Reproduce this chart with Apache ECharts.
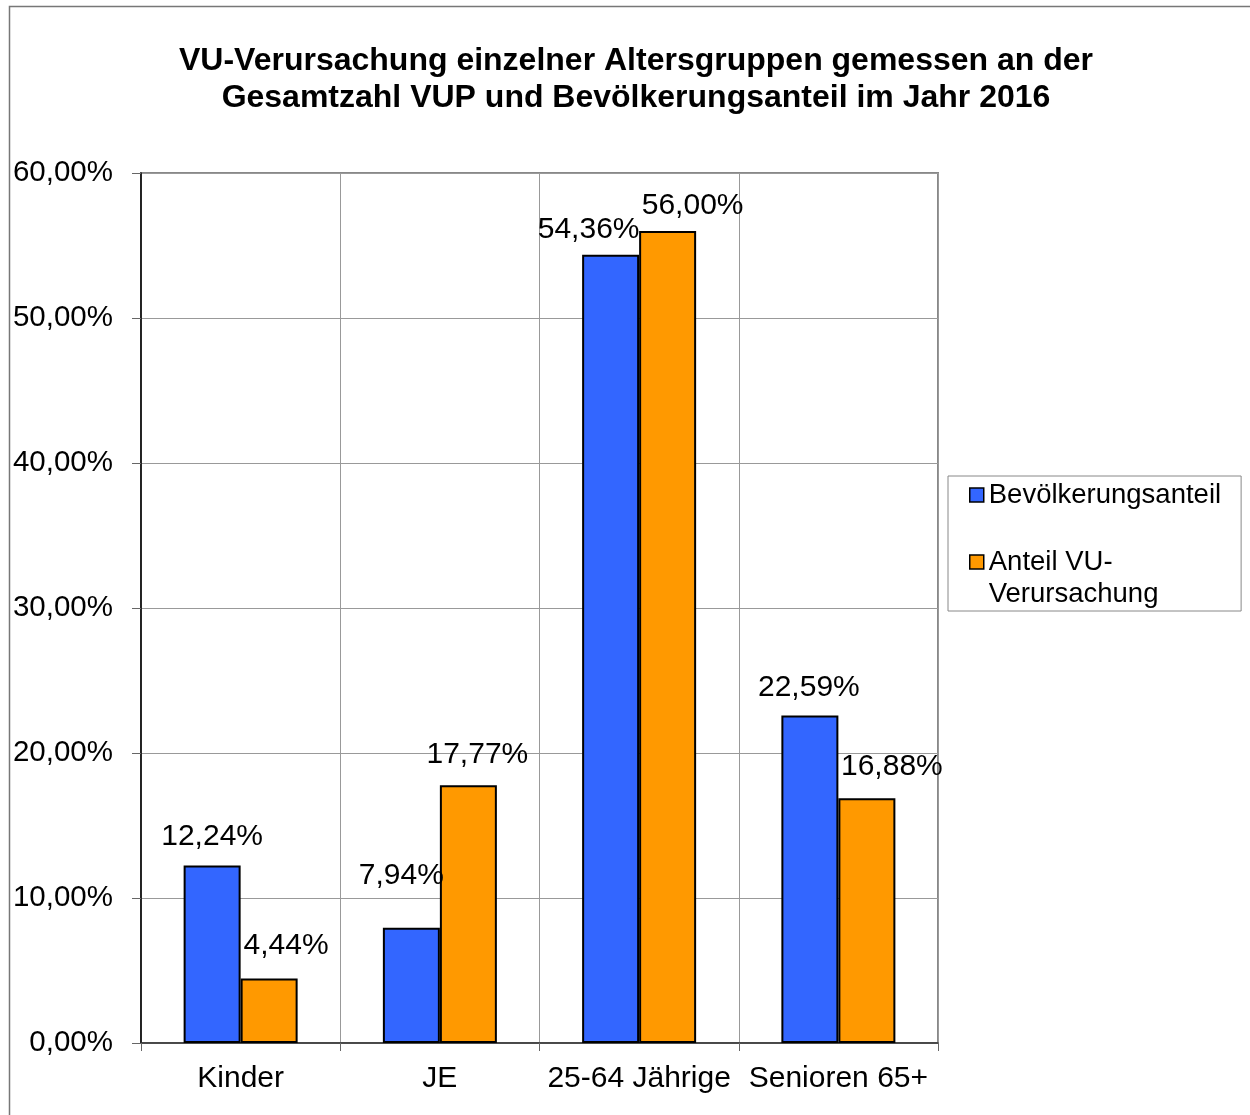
<!DOCTYPE html>
<html>
<head>
<meta charset="utf-8">
<script src="https://cdn.jsdelivr.net/npm/echarts@6/dist/echarts.min.js"></script>
<style>
html,body{margin:0;padding:0;background:#fff;}
#c{width:1250px;height:1115px;}
</style>
</head>
<body>
<div id="c"></div>
<script>
const categories = ['Kinder', 'JE', '25-64 Jährige', 'Senioren 65+'];
const seriesNames = ['Bevölkerungsanteil', 'Anteil VU-Verursachung'];
const bevoelkerung = [12.24, 7.94, 54.36, 22.59];
const vuAnteil = [4.44, 17.77, 56.00, 16.88];
const yTicks = [0, 10, 20, 30, 40, 50, 60];

// label nudges (style only, not data)
const nudgeBlue = [[0, -9], [-10, -32], [-22, -5], [-1, -8]];
const nudgeOrange = [[17, -13], [9, -11], [25, -5], [25, -12]];

const FONT = "'Liberation Sans', Arial, sans-serif";
const fmt = v => v.toFixed(2).replace('.', ',') + '%';

function build(vals, nudges) {
  return vals.map((v, i) => ({ value: v, label: { offset: nudges[i] } }));
}

const chart = echarts.init(document.getElementById('c'), null, { renderer: 'canvas' });
chart.setOption({
  backgroundColor: '#fff',
  animation: false,
  textStyle: { fontFamily: FONT },
  graphic: [{
    type: 'rect',
    shape: { x: 9.5, y: 6.5, width: 1260, height: 1130 },
    style: { fill: null, stroke: '#777', lineWidth: 1.5 },
    silent: true
  }],
  title: {
    text: 'VU-Verursachung einzelner Altersgruppen gemessen an der\nGesamtzahl VUP und Bevölkerungsanteil im Jahr 2016',
    left: 636,
    top: 43,
    padding: 0,
    textAlign: 'center',
    textStyle: { fontFamily: FONT, fontSize: 32, fontWeight: 'bold', color: '#000', lineHeight: 37 }
  },
  legend: {
    orient: 'vertical',
    left: 948,
    top: 476,
    padding: [3, 20, 1, 21],
    itemWidth: 14,
    itemHeight: 14,
    itemGap: 3,
    borderColor: '#888',
    borderWidth: 1,
    borderRadius: 0,
    icon: 'rect',
    formatter: name => name === seriesNames[1] ? '\nAnteil VU-\nVerursachung' : name,
    data: seriesNames,
    textStyle: { fontFamily: FONT, fontSize: 27.5, color: '#000', lineHeight: 32 },
    itemStyle: { borderColor: '#000', borderWidth: 1.5 }
  },
  grid: {
    left: 141, right: 312, top: 173, bottom: 72,
    show: true, borderColor: '#888', borderWidth: 2, backgroundColor: 'transparent'
  },
  xAxis: {
    type: 'category',
    data: categories,
    boundaryGap: true,
    axisLine: { show: true, lineStyle: { color: '#333', width: 1.5 } },
    axisTick: { show: true, alignWithLabel: false, length: 8, lineStyle: { color: '#666', width: 1 } },
    axisLabel: { fontFamily: FONT, fontSize: 30, color: '#000', margin: 21, interval: 0 },
    splitLine: { show: true, interval: 0, lineStyle: { color: '#999', width: 1 } }
  },
  yAxis: {
    type: 'value',
    min: yTicks[0],
    max: yTicks[yTicks.length - 1],
    interval: 10,
    axisLine: { show: true, lineStyle: { color: '#000', width: 1.5 } },
    axisTick: { show: true, length: 9, lineStyle: { color: '#666', width: 1 } },
    axisLabel: { fontFamily: FONT, fontSize: 29.5, color: '#000', margin: 28, padding: [2, 0, 0, 0], formatter: v => fmt(v) },
    splitLine: { show: true, lineStyle: { color: '#999', width: 1 } }
  },
  series: [
    {
      name: seriesNames[0],
      type: 'bar',
      data: build(bevoelkerung, nudgeBlue),
      barWidth: 57,
      barGap: '0%',
      itemStyle: { color: '#3366FF', borderColor: '#000', borderWidth: 2 },
      label: { show: true, position: 'top', distance: 5, formatter: p => fmt(p.value), fontFamily: FONT, fontSize: 30, color: '#000' }
    },
    {
      name: seriesNames[1],
      type: 'bar',
      data: build(vuAnteil, nudgeOrange),
      barWidth: 57,
      barGap: '0%',
      itemStyle: { color: '#FF9900', borderColor: '#000', borderWidth: 2 },
      label: { show: true, position: 'top', distance: 5, formatter: p => fmt(p.value), fontFamily: FONT, fontSize: 30, color: '#000' }
    }
  ]
});
</script>
</body>
</html>
